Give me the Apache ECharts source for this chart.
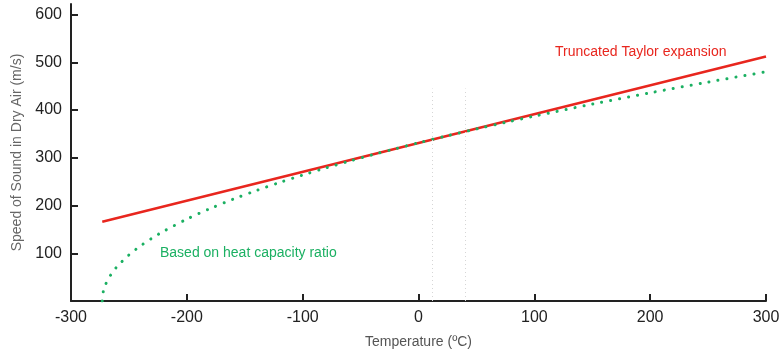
<!DOCTYPE html>
<html>
<head>
<meta charset="utf-8">
<script src="https://cdn.jsdelivr.net/npm/echarts@6/dist/echarts.min.js"></script>
<style>
  html, body {margin: 0; padding: 0; background: #fff;}
  #chart {width: 781px; height: 355px;}
</style>
</head>
<body>
<div id="chart"></div>
<script>
// temperatures (°C) and speeds (m/s)
const taylorT = [-273, 300];
const taylorV = [166, 512];
const ratioT = [-273, -272, -270, -265, -260, -250, -240, -230, -220, -200, -180, -160, -140, -120, -100, -80, -60, -40, -20, 0, 25, 50, 75, 100, 150, 200, 250, 300];
const ratioV = [0, 21.5, 35.6, 57.2, 72.7, 96.4, 115.4, 131.7, 146.1, 171.4, 193.5, 213.2, 231.3, 248.1, 263.8, 278.6, 292.7, 306.1, 318.9, 331.3, 346.1, 360.3, 374.0, 387.2, 412.3, 436.0, 458.5, 480];
const xTicks = [-300, -200, -100, 0, 100, 200, 300];
const yTicks = [100, 200, 300, 400, 500, 600];
const guideT = [12, 40];
const guideTop = 445;

const red = '#e8261e';
const green = '#1bb062';
const axisColor = '#222';

const chart = echarts.init(document.getElementById('chart'));
chart.setOption({
  animation: false,
  grid: {left: 71, right: 15, top: 4, bottom: 54, outerBoundsMode: 'none'},
  xAxis: {
    type: 'value',
    min: -300,
    max: 300,
    interval: 100,
    name: 'Temperature (ºC)',
    nameLocation: 'middle',
    nameGap: 34,
    nameTextStyle: {color: '#555', fontSize: 14, fontFamily: 'Liberation Sans'},
    axisLine: {onZero: false, lineStyle: {color: axisColor, width: 2}},
    axisTick: {inside: true, length: 7, lineStyle: {color: axisColor, width: 2}, customValues: xTicks},
    axisLabel: {color: axisColor, fontSize: 16, margin: 9, fontFamily: 'Liberation Sans', customValues: xTicks},
    splitLine: {show: false}
  },
  yAxis: {
    type: 'value',
    min: 0,
    max: 622,
    name: 'Speed of Sound in Dry Air (m/s)',
    nameLocation: 'middle',
    nameGap: 47,
    nameTextStyle: {color: '#666', fontSize: 14, fontFamily: 'Liberation Sans'},
    axisLine: {show: true, onZero: false, lineStyle: {color: axisColor, width: 2}},
    axisTick: {show: true, inside: true, length: 7, lineStyle: {color: axisColor, width: 2}, customValues: yTicks},
    axisLabel: {color: axisColor, fontSize: 16, margin: 9, fontFamily: 'Liberation Sans', customValues: yTicks},
    splitLine: {show: false}
  },
  series: [
    {
      name: 'Based on heat capacity ratio',
      type: 'line',
      data: ratioT.map((t, i) => [t, ratioV[i]]),
      smooth: 0.3,
      symbol: 'none',
      lineStyle: {color: green, width: 3, type: [0.1, 9], cap: 'round'},
      z: 3,
      markLine: {
        silent: true,
        symbol: 'none',
        label: {show: false},
        lineStyle: {color: '#d6d6d6', width: 1, type: [1, 3]},
        data: guideT.map(t => [{coord: [t, 0]}, {coord: [t, guideTop]}])
      }
    },
    {
      name: 'Truncated Taylor expansion',
      type: 'line',
      data: taylorT.map((t, i) => [t, taylorV[i]]),
      symbol: 'none',
      lineStyle: {color: red, width: 2.5},
      z: 2
    }
  ],
  graphic: [
    {
      type: 'text', left: 555, top: 45,
      style: {text: 'Truncated Taylor expansion', fill: red, fontSize: 14, fontFamily: 'Liberation Sans'}
    },
    {
      type: 'text', left: 160, top: 246,
      style: {text: 'Based on heat capacity ratio', fill: green, fontSize: 14, fontFamily: 'Liberation Sans'}
    }
  ]
});
</script>
</body>
</html>
